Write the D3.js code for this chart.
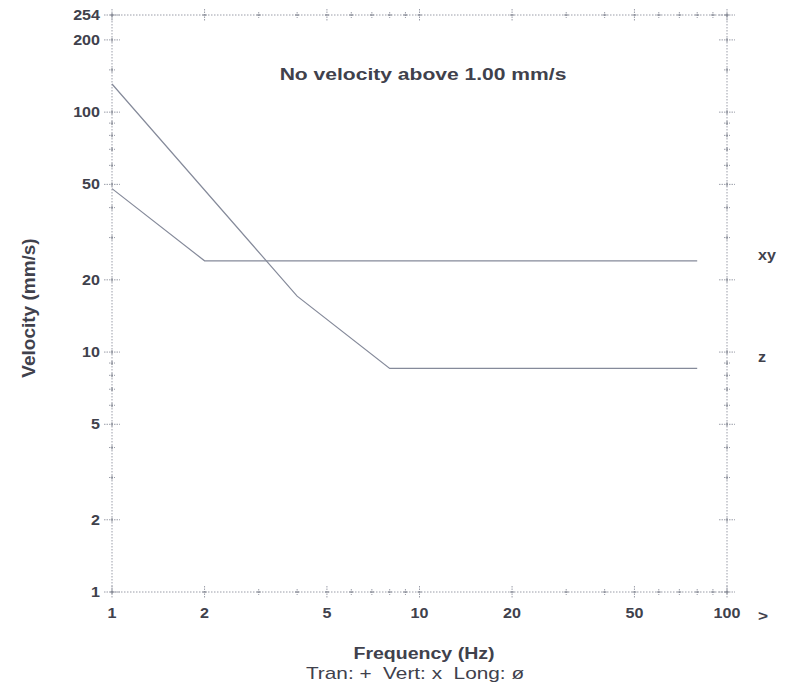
<!DOCTYPE html>
<html>
<head>
<meta charset="utf-8">
<script src="https://cdn.jsdelivr.net/npm/d3@7/dist/d3.min.js"></script>
<style>
  html, body { margin: 0; padding: 0; background: #ffffff; }
  svg { display: block; }
  text { font-family: "Liberation Sans", Arial, sans-serif; fill: #40414c; white-space: pre; }
</style>
</head>
<body>
<svg id="chart" width="786" height="690"></svg>
<script>
// ---- data ----
const xyFreq = [1, 2, 80];
const xyVel = [48, 24, 24];
const zFreq = [1, 4, 8, 80];
const zVel = [131, 17.1, 8.55, 8.55];

const xTickValues = [1, 2, 5, 10, 20, 50, 100];
const xMinorValues = [3, 4, 6, 7, 8, 9, 30, 40, 60, 70, 80, 90];
const yTickValues = [1, 2, 5, 10, 20, 50, 100, 200, 254];
const yMinorValues = [3, 4, 6, 7, 8, 9, 30, 40, 60, 70, 80, 90, 150];

const titleText = "No velocity above 1.00 mm/s";
const xLabelText = "Frequency (Hz)";
const legendText = "Tran: +  Vert: x  Long: \u00f8";
const yLabelText = "Velocity (mm/s)";
const seriesLabels = ["xy", "z"];

// ---- layout ----
const svg = d3.select("#chart");
const x = d3.scaleLog().domain([1, 100]).range([112, 727]);
const y = d3.scaleLog().domain([1, 254]).range([592, 15]);
const x0 = x.range()[0], x1 = x.range()[1];
const y0 = y.range()[0], y1 = y.range()[1];

const gridColor = "#9a9da8";

// frame (dotted)
const frame = svg.append("g");
[[x0, y1, x1, y1], [x0, y0, x1, y0], [x0, y1, x0, y0], [x1, y1, x1, y0]].forEach(s => {
  frame.append("line")
    .attr("x1", s[0]).attr("y1", s[1]).attr("x2", s[2]).attr("y2", s[3])
    .attr("stroke", gridColor).attr("stroke-width", 1)
    .attr("stroke-dasharray", "1.5,1.5");
});

// tick crosses on all sides
function crossX(v, major) {
  const len = major ? 6 : 3;
  [y0, y1].forEach(yy => {
    frame.append("line").attr("x1", x(v)).attr("x2", x(v))
      .attr("y1", yy - len).attr("y2", yy + len)
      .attr("stroke", gridColor).attr("stroke-dasharray", "1.5,1");
    frame.append("line").attr("x1", x(v) - 2).attr("x2", x(v) + 2)
      .attr("y1", yy).attr("y2", yy).attr("stroke", "#7d808c");
  });
}
function crossY(v, major) {
  const len = major ? 8 : 3;
  [x0, x1].forEach(xx => {
    frame.append("line").attr("y1", y(v)).attr("y2", y(v))
      .attr("x1", xx - len).attr("x2", xx + len)
      .attr("stroke", gridColor).attr("stroke-dasharray", "1.5,1");
    frame.append("line").attr("y1", y(v) - 2).attr("y2", y(v) + 2)
      .attr("x1", xx).attr("x2", xx).attr("stroke", "#7d808c");
  });
}
xTickValues.forEach(v => crossX(v, true));
xMinorValues.forEach(v => crossX(v, false));
yTickValues.forEach(v => crossY(v, true));
yMinorValues.forEach(v => crossY(v, false));

// stretched text helper
function label(txt, px, py, opts) {
  const o = Object.assign({ size: 14, weight: "bold", anchor: "middle", sx: 1.15, rotate: 0, baseline: "auto" }, opts || {});
  let tr = `translate(${px},${py}) scale(${o.sx},1)`;
  if (o.rotate) tr += ` rotate(${o.rotate})`;
  return svg.append("text").attr("transform", tr)
    .attr("text-anchor", o.anchor)
    .attr("dominant-baseline", o.baseline)
    .style("font-size", o.size + "px")
    .style("font-weight", o.weight)
    .text(txt);
}

// y tick labels
yTickValues.forEach(v => {
  label(String(v), 100, y(v), { anchor: "end", baseline: "central", size: 14 });
});
// x tick labels
xTickValues.forEach(v => {
  label(String(v), x(v), 613, { baseline: "central", size: 14 });
});
label(">", 763, 615, { baseline: "central", size: 15 });

// series lines
const line = d3.line().x(d => x(d[0])).y(d => y(d[1]));
const lineColor = "#858a9a";
svg.append("path").datum(xyFreq.map((f, i) => [f, xyVel[i]]))
  .attr("d", line).attr("fill", "none").attr("stroke", lineColor).attr("stroke-width", 1.2);
svg.append("path").datum(zFreq.map((f, i) => [f, zVel[i]]))
  .attr("d", line).attr("fill", "none").attr("stroke", lineColor).attr("stroke-width", 1.2);

// series labels
label(seriesLabels[0], 767, y(xyVel[xyVel.length - 1]) - 6, { baseline: "central", size: 14 });
label(seriesLabels[1], 762, y(zVel[zVel.length - 1]) - 11, { baseline: "central", size: 14 });

// titles
label(titleText, 423, 80, { size: 17, sx: 1.24 });
label(xLabelText, 424, 659, { size: 17, sx: 1.15 });
label(legendText, 415, 679, { size: 16, weight: "normal", sx: 1.3 });
label(yLabelText, 28, 308, { size: 19, sx: 1.0, rotate: -90, baseline: "central" });
</script>
</body>
</html>
